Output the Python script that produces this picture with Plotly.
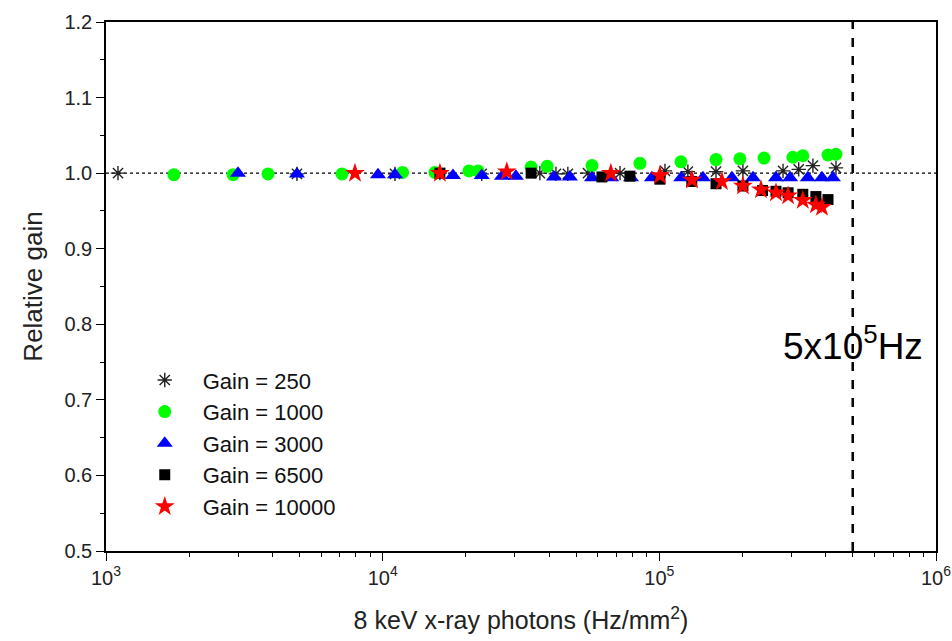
import math
import plotly.graph_objects as go

# ---- data ----
g250_x = [1.105e3, 4.9e3, 1.108e4, 1.61e4, 2.28e4, 3.70e4, 4.23e4, 4.67e4, 5.52e4, 7.21e4,
          1.048e5, 1.268e5, 1.603e5, 2.005e5, 2.80e5, 3.19e5, 3.59e5, 4.35e5]
g250_y = [1.000, 0.999, 0.999, 1.000, 0.999, 1.000, 0.999, 0.999, 1.000, 1.000,
          1.003, 1.002, 1.002, 1.003, 1.003, 1.005, 1.010, 1.007]

g1000_x = [1.76e3, 2.88e3, 3.85e3, 7.13e3, 1.18e4, 1.545e4, 2.05e4, 2.21e4, 3.44e4, 3.93e4,
           5.71e4, 8.51e4, 1.197e5, 1.603e5, 1.955e5, 2.39e5, 3.04e5, 3.30e5, 4.07e5, 4.35e5]
g1000_y = [0.998, 0.998, 0.999, 0.999, 1.001, 1.001, 1.003, 1.003, 1.008, 1.009,
           1.010, 1.013, 1.015, 1.018, 1.019, 1.020, 1.021, 1.023, 1.024, 1.025]

g3000_x = [3.0e3, 4.9e3, 9.62e3, 1.108e4, 1.795e4, 2.28e4, 2.70e4, 3.03e4, 4.16e4, 4.75e4,
           5.71e4, 6.70e4, 7.90e4, 9.40e4, 1.20e5, 1.438e5, 1.830e5, 2.18e5, 2.64e5, 2.97e5,
           3.44e5, 3.87e5, 4.24e5]
g3000_y = [1.000, 0.999, 0.998, 0.998, 0.997, 0.997, 0.996, 0.996, 0.995, 0.995,
           0.994, 0.994, 0.994, 0.994, 0.994, 0.994, 0.994, 0.994, 0.994, 0.994,
           0.994, 0.994, 0.994]

g6500_x = [1.61e4, 3.44e4, 6.20e4, 7.83e4, 1.005e5, 1.31e5, 1.603e5, 2.005e5, 2.36e5, 2.64e5,
           2.92e5, 3.30e5, 3.68e5, 4.07e5]
g6500_y = [1.000, 1.000, 0.995, 0.996, 0.992, 0.989, 0.986, 0.983, 0.977, 0.976,
           0.974, 0.972, 0.969, 0.965]

g10000_x = [7.94e3, 1.61e4, 2.81e4, 6.68e4, 1.005e5, 1.312e5, 1.683e5, 2.005e5, 2.33e5, 2.64e5,
            2.92e5, 3.30e5, 3.68e5, 3.87e5]
g10000_y = [1.000, 1.000, 1.002, 1.000, 0.997, 0.991, 0.989, 0.983, 0.978, 0.974,
            0.970, 0.964, 0.958, 0.955]

series_names = ["Gain = 250", "Gain = 1000", "Gain = 3000", "Gain = 6500", "Gain = 10000"]

x_tick_vals = [1e3, 1e4, 1e5, 1e6]
x_tick_text = ["10<sup>3</sup>", "10<sup>4</sup>", "10<sup>5</sup>", "10<sup>6</sup>"]
x_minor_vals = [m * 10 ** e for e in (3, 4, 5) for m in range(2, 10)]

RATE_LIMIT = 5e5
REF_GAIN = 1.0
Y_MIN, Y_MAX = 0.5, 1.2
X_MIN, X_MAX = 1e3, 1e6

FONT = "Liberation Sans, Arial, sans-serif"

fig = go.Figure()

# reference lines
fig.add_trace(go.Scatter(x=[X_MIN, X_MAX], y=[REF_GAIN, REF_GAIN], mode="lines",
                         line=dict(color="black", width=1.3, dash="dot"),
                         showlegend=False, hoverinfo="skip"))
fig.add_trace(go.Scatter(x=[RATE_LIMIT, RATE_LIMIT], y=[Y_MIN, Y_MAX], mode="lines",
                         line=dict(color="black", width=2.5, dash="dash"),
                         showlegend=False, hoverinfo="skip"))

styles = [
    (g250_x, g250_y, dict(symbol="asterisk-open", size=12, color="#222",
                          line=dict(color="#222", width=1.4))),
    (g1000_x, g1000_y, dict(symbol="circle", size=13, color="#00ff00",
                            line=dict(width=0))),
    (g3000_x, g3000_y, dict(symbol="triangle-up", size=14, color="#0000ff",
                            line=dict(width=0))),
    (g6500_x, g6500_y, dict(symbol="square", size=11, color="black",
                            line=dict(width=0))),
    (g10000_x, g10000_y, dict(symbol="star", size=15, color="#ff0000",
                              line=dict(width=0))),
]
for (xs, ys, mk), name in zip(styles, series_names):
    fig.add_trace(go.Scatter(x=xs, y=ys, mode="markers", name=name, marker=mk))

fig.add_annotation(x=math.log10(RATE_LIMIT), y=0.774, xref="x", yref="y",
                   text="5x10<sup>5</sup>Hz", showarrow=False,
                   font=dict(family=FONT, size=37, color="black"))

fig.update_layout(
    width=952, height=641,
    margin=dict(l=106, r=16, t=22, b=90),
    paper_bgcolor="white", plot_bgcolor="white",
    font=dict(family=FONT, color="#222"),
    legend=dict(x=0.025, y=0.045, xanchor="left", yanchor="bottom",
                bgcolor="rgba(0,0,0,0)", font=dict(size=22, color="#111"),
                itemwidth=66),
    xaxis=dict(type="log", range=[math.log10(X_MIN), math.log10(X_MAX)],
               automargin=False,
               tickmode="array", tickvals=x_tick_vals, ticktext=x_tick_text,
               ticks="outside", ticklen=8, tickwidth=1.3, tickcolor="black",
               showline=True, linecolor="black", linewidth=1.5, mirror=True,
               showgrid=False, zeroline=False,
               minor=dict(tickvals=x_minor_vals, ticks="outside", ticklen=4,
                          tickcolor="black", showgrid=False),
               tickfont=dict(size=20, color="#222"),
               title=dict(text="8 keV x-ray photons (Hz/mm<sup>2</sup>)",
                          font=dict(size=25, color="#222"), standoff=24)),
    yaxis=dict(range=[Y_MIN, Y_MAX], dtick=0.1, tick0=0.5, tickformat=".1f",
               automargin=False,
               ticks="outside", ticklen=8, tickwidth=1.3, tickcolor="black",
               showline=True, linecolor="black", linewidth=1.5, mirror=True,
               showgrid=False, zeroline=False,
               minor=dict(dtick=0.05, ticks="outside", ticklen=4,
                          tickcolor="black", showgrid=False),
               tickfont=dict(size=20, color="#222"),
               title=dict(text="Relative gain", font=dict(size=26, color="#222"),
                          standoff=14)),
    yaxis2=dict(range=[Y_MIN, Y_MAX], overlaying="y", side="right", dtick=0.1, tick0=0.5,
                automargin=False,
                ticks="inside", ticklen=6, tickcolor="black", showticklabels=False,
                showline=False, showgrid=False, zeroline=False,
                minor=dict(dtick=0.05, ticks="inside", ticklen=4, tickcolor="black")),
)

fig.write_html("out.html")
